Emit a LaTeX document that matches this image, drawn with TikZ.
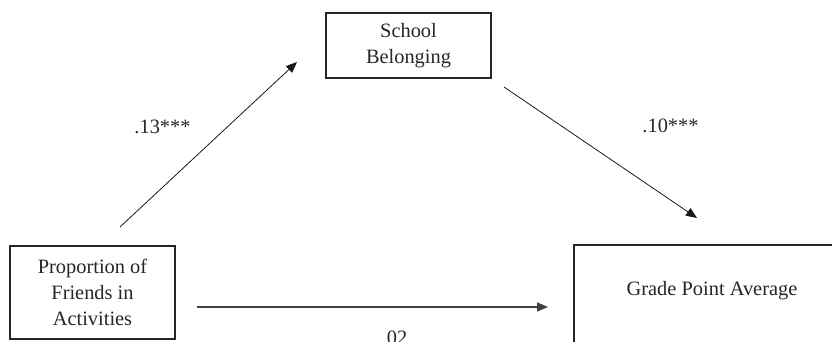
\documentclass[tikz,border=0pt]{standalone}
\usepackage{fontspec}
\setmainfont{Liberation Serif}
\usetikzlibrary{arrows.meta}
\begin{document}
\begin{tikzpicture}[x=1pt,y=-1pt,
  every node/.style={font=\fontsize{20.4pt}{26.3pt}\selectfont, text=black!85},
  varbox/.style={draw=black!85, line width=1.1pt, inner sep=0pt, align=center},
  path/.style={draw=black!90, line width=0.8pt, -{Triangle[length=11pt,width=9pt]}},
  lbl/.style={inner sep=0pt, anchor=base}]
\useasboundingbox (0,0) rectangle (832,342);
\clip (0,0) rectangle (832,342);
% boxes
\node[varbox, minimum width=165pt, minimum height=93pt] (prop) at (92.5,292.5) {Proportion of\\Friends in\\Activities};
\node[varbox, minimum width=165pt, minimum height=65pt] (school) at (408.5,45.5) {School\\Belonging};
\node[varbox, anchor=base, minimum width=276pt, text height=50pt, text depth=80pt] (gpa) at (712,295) {Grade Point Average};
% connector end points
\coordinate (a1s) at (120,227);
\coordinate (a1e) at (297,62);
\coordinate (a2s) at (504,87);
\coordinate (a2e) at (697,218);
\coordinate (a3s) at (197,307);
\coordinate (a3e) at (548,307);
\draw[path] (a1s) -- (a1e);
\draw[path] (a2s) -- (a2e);
\draw[path, draw=black!75, line width=1.4pt] (a3s) -- (a3e);
% labels
\node[lbl] (l1) at (162.5,133.3) {.13***};
\node[lbl] (l2) at (670.5,132.7) {.10***};
\node[lbl] (l3) at (394.5,344) {.02};
\end{tikzpicture}
\end{document}
